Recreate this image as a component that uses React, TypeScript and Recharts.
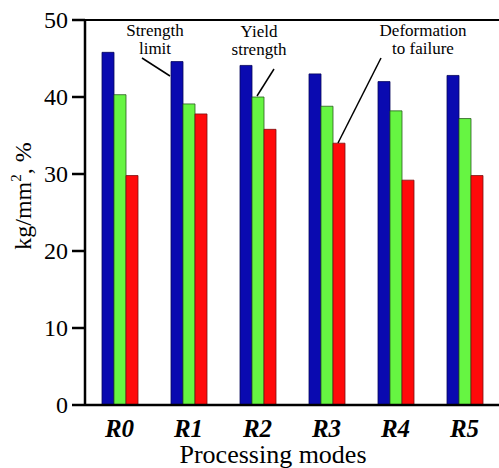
import React from 'react';
import { BarChart, Bar, XAxis, YAxis, ReferenceLine } from 'recharts';

const categories = ['R0', 'R1', 'R2', 'R3', 'R4', 'R5'];
const strengthLimit = [45.8, 44.6, 44.1, 43.0, 42.0, 42.8];
const yieldStrength = [40.3, 39.1, 40.0, 38.8, 38.2, 37.2];
const deformation = [29.8, 37.8, 35.8, 34.0, 29.2, 29.8];
const yTicks = [0, 10, 20, 30, 40, 50];

const data = categories.map((c, i) => ({
  name: c,
  strength: strengthLimit[i],
  yieldS: yieldStrength[i],
  deform: deformation[i],
}));

const FONT = 'Liberation Serif';

const YTick = (props: any) => {
  const { x, y, payload } = props;
  return (
    <text x={x - 2} y={y} dy={8} textAnchor="end" fontFamily={FONT} fontSize={24} style={{ fontFamily: FONT }} fill="#000">
      <tspan fontFamily={FONT} style={{ fontFamily: FONT }}>{String(payload.value)}</tspan>
    </text>
  );
};

const XTick = (props: any) => {
  const { x, y, payload } = props;
  return (
    <text x={x} y={y} dy={24} textAnchor="middle" fontFamily={FONT} fontSize={25} fontWeight="bold" fontStyle="italic" style={{ fontFamily: FONT }} fill="#000">
      <tspan fontFamily={FONT} style={{ fontFamily: FONT }}>{String(payload.value)}</tspan>
    </text>
  );
};

const t = { fontFamily: FONT, fontSize: 17 };

const Overlay = () => (
  <svg width={499} height={468} style={{ position: 'absolute', left: 0, top: 0, pointerEvents: 'none' }}>
    <g fill="#000">
      <text x={155} y={36} textAnchor="middle" style={t}>Strength</text>
      <text x={155} y={54} textAnchor="middle" style={t}>limit</text>
      <line x1={142} y1={58} x2={170} y2={76} stroke="#000" strokeWidth={1.5} />
      <text x={259} y={37} textAnchor="middle" style={t}>Yield</text>
      <text x={259} y={55} textAnchor="middle" style={t}>strength</text>
      <line x1={274} y1={69} x2={257} y2={96} stroke="#000" strokeWidth={1.5} />
      <text x={423} y={36} textAnchor="middle" style={t}>Deformation</text>
      <text x={423} y={54} textAnchor="middle" style={t}>to failure</text>
      <line x1={381} y1={58} x2={338} y2={143} stroke="#000" strokeWidth={1.5} />
      <text x={273} y={463} textAnchor="middle" style={{ fontFamily: FONT, fontSize: 26 }}>Processing modes</text>
      <text transform="translate(31,196) rotate(-90)" textAnchor="middle" style={{ fontFamily: FONT, fontSize: 24 }}>
        kg/mm<tspan dy={-10} style={{ fontSize: 15 }}>2</tspan><tspan dy={10}>, %</tspan>
      </text>
    </g>
  </svg>
);

export default function App() {
  return (
    <div style={{ position: 'absolute', left: 0, top: 0, width: 499, height: 468, background: '#fff', fontFamily: FONT }}>
      <BarChart
        width={499}
        height={468}
        data={data}
        margin={{ top: 20, right: 0, bottom: 0, left: 0 }}
        barGap={0}
        barCategoryGap="24%"
      >
        <XAxis
          dataKey="name"
          height={63}
          axisLine={{ stroke: '#000', strokeWidth: 2.5 }}
          tickLine={false}
          tick={<XTick />}
          interval={0}
        />
        <YAxis
          width={85}
          domain={[0, 50]}
          ticks={yTicks}
          interval={0}
          axisLine={{ stroke: '#000', strokeWidth: 2.5 }}
          tickLine={{ stroke: '#000', strokeWidth: 2.5 }}
          tickSize={13}
          tick={<YTick />}
        />
        <ReferenceLine y={50} stroke="#000" strokeWidth={2} />
        <Bar dataKey="strength" fill="#0a0ab0" stroke="#05055a" strokeWidth={0.8} barSize={12} isAnimationActive={false} />
        <Bar dataKey="yieldS" fill="#66f542" stroke="#2a5a20" strokeWidth={0.8} barSize={12} isAnimationActive={false} />
        <Bar dataKey="deform" fill="#ff0a0a" stroke="#7a1010" strokeWidth={0.8} barSize={12} isAnimationActive={false} />
      </BarChart>
      <Overlay />
    </div>
  );
}
